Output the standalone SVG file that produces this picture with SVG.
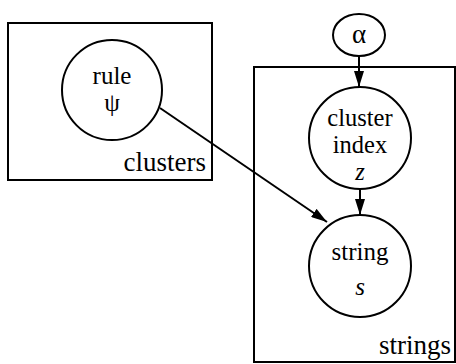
<svg xmlns="http://www.w3.org/2000/svg" width="456" height="364" viewBox="0 0 456 364">
<defs>
<marker id="ah" markerWidth="16" markerHeight="10" refX="16" refY="5" orient="auto" markerUnits="userSpaceOnUse">
<path d="M0,0 L16,5 L0,10 Z" fill="#000"/>
</marker>
<style>
.plate{fill:none;stroke:#000;stroke-width:2}
.node{fill:#fff;stroke:#000;stroke-width:2}
text{font-family:'Liberation Serif','Times New Roman',serif;fill:#000}
.t{font-size:25px;text-anchor:middle}
.t2{font-size:24.5px;text-anchor:middle}
.lbl{font-size:27px;text-anchor:end}
.it{font-style:italic}
.edge{stroke:#000;stroke-width:2;fill:none}
</style>
</defs>
<rect class="plate" x="8" y="23" width="204" height="157"/>
<text class="lbl" x="206" y="171">clusters</text>
<rect class="plate" x="254" y="67" width="201" height="295"/>
<text class="lbl" x="451" y="354">strings</text>
<g id="edges">
<line class="edge" x1="359" y1="56" x2="359" y2="87" marker-end="url(#ah)"/>
<line class="edge" x1="360" y1="189" x2="360" y2="215" marker-end="url(#ah)"/>
<line class="edge" x1="160" y1="108" x2="327" y2="222" marker-end="url(#ah)"/>
</g>
<g id="alpha">
<ellipse class="node" cx="359" cy="35" rx="26" ry="21"/>
<text class="t" x="359" y="43" style="font-size:27px">α</text>
</g>
<g id="rule">
<circle class="node" cx="112" cy="90" r="50"/>
<text class="t" x="112" y="84">rule</text>
<text class="t" x="112" y="111">ψ</text>
</g>
<g id="cluster">
<circle class="node" cx="360" cy="138" r="51"/>
<text class="t2" x="360" y="126">cluster</text>
<text class="t2" x="360" y="153">index</text>
<text class="t2 it" x="360" y="180">z</text>
</g>
<g id="string">
<circle class="node" cx="360" cy="266" r="51"/>
<text class="t" x="360" y="260">string</text>
<text class="t it" x="360" y="295">s</text>
</g>
</svg>
